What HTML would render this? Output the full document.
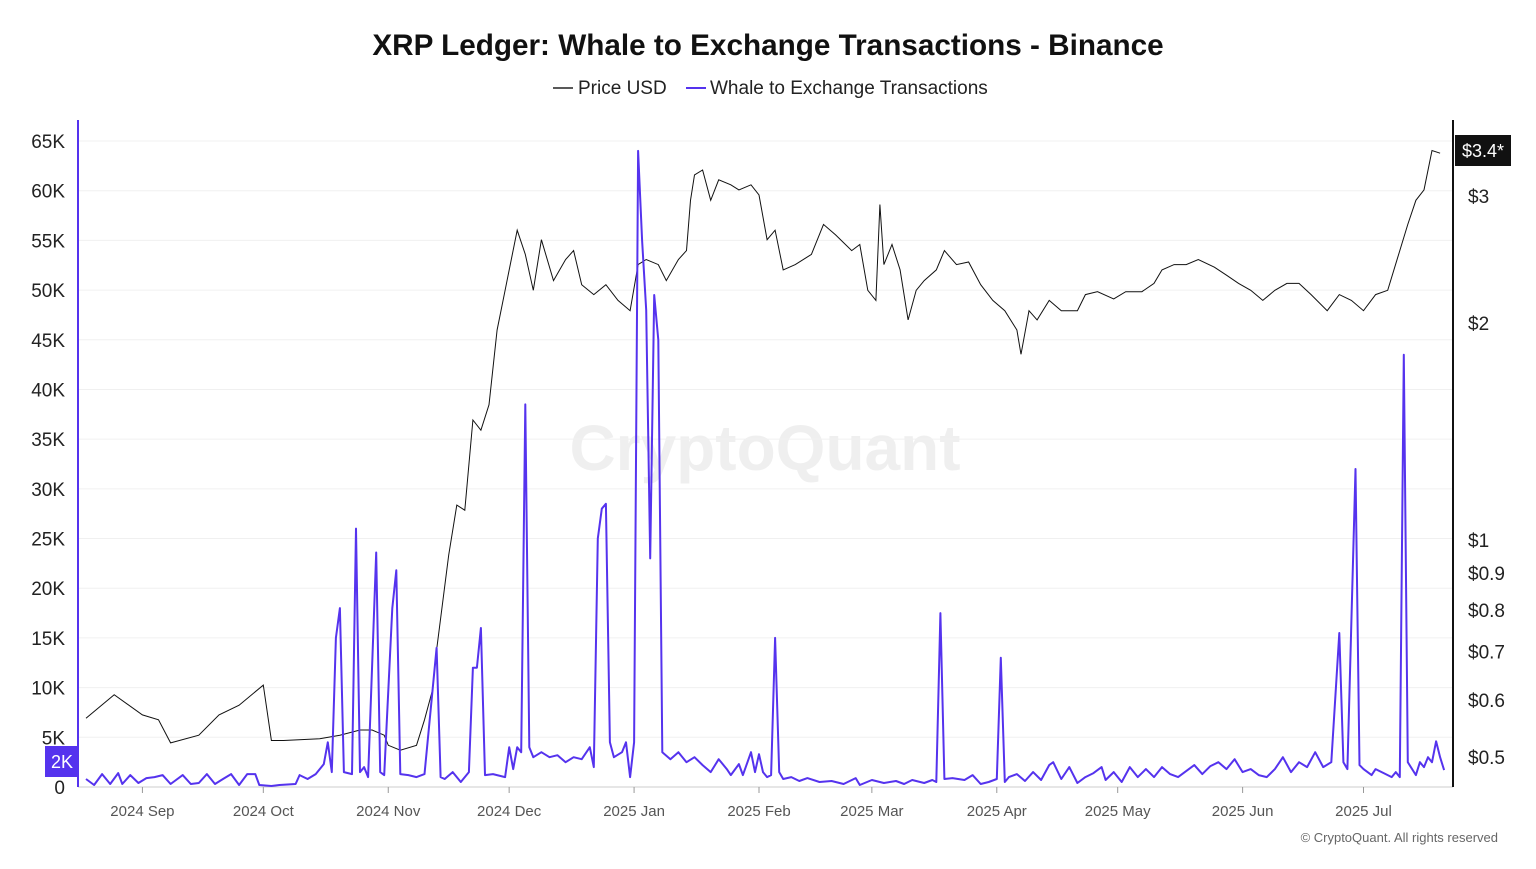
<!DOCTYPE html>
<html><head><meta charset="utf-8">
<style>
body{margin:0;background:#fff;font-family:"Liberation Sans",sans-serif;}
svg text{font-family:"Liberation Sans",sans-serif;}
</style></head>
<body>
<svg id="chart" width="1536" height="864" xmlns="http://www.w3.org/2000/svg">
<text x="768" y="55" text-anchor="middle" font-size="29.7" font-weight="bold" fill="#111">XRP Ledger: Whale to Exchange Transactions - Binance</text>
<g>
<g><line x1="553" y1="88" x2="573" y2="88" stroke="#222" stroke-width="1.5"/><text x="578" y="94" font-size="19" fill="#222">Price USD</text></g>
<g><line x1="686" y1="88" x2="706" y2="88" stroke="#5533ee" stroke-width="2"/><text x="710" y="94" font-size="19" fill="#222">Whale to Exchange Transactions</text></g>
</g>
<text x="765" y="470" text-anchor="middle" font-size="64" font-weight="bold" fill="#000" opacity="0.06">CryptoQuant</text>
<g id="grid"></g>
<g id="yleft"></g>
<g id="yright"></g>
<g id="xaxis"></g>
<path id="priceLine" fill="none" stroke="#111" stroke-width="1"/>
<path id="whaleLine" fill="none" stroke="#5533ee" stroke-width="2" stroke-linejoin="round"/>
<line x1="78" y1="120" x2="78" y2="787" stroke="#5533ee" stroke-width="2"/>
<line x1="1453" y1="120" x2="1453" y2="787" stroke="#111" stroke-width="2"/>
<g><rect x="45" y="746" width="34" height="31" fill="#5533ee"/><text x="62" y="768" text-anchor="middle" font-size="18" fill="#fff">2K</text></g>
<g><rect x="1455" y="135" width="56" height="31" fill="#111"/><text x="1483" y="157" text-anchor="middle" font-size="18" fill="#fff">$3.4*</text></g>
<text x="1498" y="842" text-anchor="end" font-size="13" fill="#666">© CryptoQuant. All rights reserved</text>
</svg>
<script>
const monthLabels=["2024 Sep","2024 Oct","2024 Nov","2024 Dec","2025 Jan","2025 Feb","2025 Mar","2025 Apr","2025 May","2025 Jun","2025 Jul"];
const monthDays=[14,44,75,105,136,167,195,226,256,287,317];
const leftTicks=[0,5000,10000,15000,20000,25000,30000,35000,40000,45000,50000,55000,60000,65000];
const leftTickLabels=["0","5K","10K","15K","20K","25K","30K","35K","40K","45K","50K","55K","60K","65K"];
const rightTicks=[0.5,0.6,0.7,0.8,0.9,1,2,3];
const rightTickLabels=["$0.5","$0.6","$0.7","$0.8","$0.9","$1","$2","$3"];
const priceDays=[0,7,14,18,21,28,33,38,44,46,49,58,63,68,71,74,75,78,82,84,86,87,90,92,94,96,98,100,102,104,105,107,109,111,113,116,119,121,123,126,129,132,135,137,139,142,144,147,149,150,151,153,155,157,160,162,165,167,169,171,173,176,180,183,186,190,192,194,196,197,198,200,202,204,206,208,211,213,216,219,222,225,228,231,232,234,236,239,242,246,248,251,255,258,262,265,267,270,273,276,280,283,286,289,292,295,298,301,304,308,311,314,317,320,323,326,328,330,332,334,336];
const priceVals=[0.566,0.61,0.572,0.563,0.523,0.536,0.572,0.59,0.629,0.527,0.527,0.53,0.536,0.545,0.545,0.536,0.519,0.511,0.519,0.563,0.62,0.704,0.953,1.118,1.1,1.467,1.42,1.54,1.956,2.22,2.37,2.69,2.49,2.22,2.61,2.29,2.45,2.52,2.26,2.19,2.26,2.15,2.08,2.41,2.45,2.41,2.29,2.45,2.52,2.96,3.21,3.26,2.96,3.16,3.11,3.06,3.11,3.01,2.61,2.69,2.37,2.41,2.49,2.74,2.65,2.52,2.57,2.22,2.15,2.92,2.41,2.57,2.37,2.02,2.22,2.29,2.37,2.52,2.41,2.43,2.26,2.15,2.08,1.956,1.81,2.08,2.02,2.15,2.08,2.08,2.19,2.21,2.16,2.21,2.21,2.27,2.37,2.41,2.41,2.45,2.39,2.33,2.27,2.22,2.15,2.22,2.27,2.27,2.19,2.08,2.19,2.15,2.08,2.19,2.22,2.52,2.74,2.96,3.06,3.47,3.44];
const whaleDays=[0,2,4,6,8,9,11,13,15,17,19,21,24,26,28,30,32,34,36,38,40,42,43,46,48,52,53,55,57,59,60,61,62,63,64,66,67,68,69,70,72,73,74,76,77,78,80,82,84,87,88,89,91,93,95,96,97,98,99,101,104,105,106,107,108,109,110,111,113,115,117,119,121,123,125,126,127,128,129,130,131,133,134,135,136,137,138,139,140,141,142,143,145,147,149,151,153,155,157,159,160,162,163,165,166,167,168,169,170,171,172,173,175,177,179,182,185,188,191,192,195,198,201,203,205,208,210,211,212,213,215,218,220,222,224,226,227,228,229,231,233,235,237,239,240,242,244,246,248,250,252,253,255,257,259,261,263,265,267,269,271,273,275,277,279,281,283,285,287,289,291,293,295,297,299,301,303,305,307,309,311,312,313,315,316,317,319,320,322,324,325,326,327,328,330,331,332,333,334,335,336,337];
const whaleVals=[800,200,1300,300,1400,300,1200,400,900,1000,1200,300,1200,300,400,1300,300,800,1300,200,1300,1300,200,100,200,300,1200,800,1300,2300,4500,1500,15000,18000,1500,1300,26000,1500,2000,1000,23600,1500,1200,18000,21800,1300,1200,1000,1300,14000,1000,800,1500,500,1500,12000,12000,16000,1200,1300,1000,4000,1800,4000,3500,38500,4000,3000,3500,3000,3200,2500,3000,2800,4000,2000,25000,28000,28500,4500,3000,3500,4500,1000,4500,64000,55000,48000,23000,49500,45000,3500,2800,3500,2500,3000,2200,1500,2800,1800,1200,2300,1200,3500,1500,3300,1500,1000,1200,15000,1500,800,1000,600,900,500,600,300,900,200,700,400,600,300,700,400,700,500,17500,800,900,700,1200,300,500,800,13000,500,1000,1300,600,1500,700,2200,2500,800,2000,400,1000,1400,2000,700,1500,500,2000,1000,1800,1000,2000,1300,1000,1600,2200,1300,2100,2500,1800,2800,1500,1800,1200,1000,1800,3000,1500,2500,2000,3500,2000,2500,15500,2500,1800,32000,2200,1800,1200,1800,1400,1000,1500,1000,43500,2500,1200,2500,2000,3000,2500,4600,3000,1700,2300];

const NS="http://www.w3.org/2000/svg";
const xScale=d=>86+d*4.03;
const yLeft=v=>787-v/65000*646;
const yRight=p=>540-217*Math.log2(p);
function mk(tag,attrs,parent,txt){const e=document.createElementNS(NS,tag);for(const k in attrs)e.setAttribute(k,attrs[k]);if(txt!==undefined)e.textContent=txt;parent.appendChild(e);return e;}
const grid=document.getElementById('grid'),yl=document.getElementById('yleft'),yr=document.getElementById('yright'),xa=document.getElementById('xaxis');
leftTicks.forEach((v,i)=>{
  const y=yLeft(v);
  const g=mk('line',{x1:78,x2:1453,y1:y,y2:y,stroke:'#f0f0f0','stroke-width':1},grid);
  
  
  const t=mk('text',{x:65,y:y+7,'text-anchor':'end','font-size':19,fill:'#222'},yl,leftTickLabels[i]);
  
  
});
rightTicks.forEach((p,i)=>{
  const t=mk('text',{x:1468,y:yRight(p)+7,'font-size':19,fill:'#222'},yr,rightTickLabels[i]);
  
  
});
mk('line',{x1:78,x2:1453,y1:787,y2:787,stroke:'#ccc'},xa);
monthDays.forEach((d,i)=>{
  const x=xScale(d);
  const tk=mk('line',{x1:x,x2:x,y1:787,y2:793,stroke:'#999'},xa);
  
  
  const t=mk('text',{x:x,y:816,'text-anchor':'middle','font-size':15,fill:'#555'},xa,monthLabels[i]);
  
  
});
document.getElementById('priceLine').setAttribute('d',priceDays.map((d,i)=>(i?'L':'M')+xScale(d).toFixed(1)+' '+yRight(priceVals[i]).toFixed(1)).join(''));
document.getElementById('whaleLine').setAttribute('d',whaleDays.map((d,i)=>(i?'L':'M')+xScale(d).toFixed(1)+' '+yLeft(whaleVals[i]).toFixed(1)).join(''));
</script>
</body></html>
